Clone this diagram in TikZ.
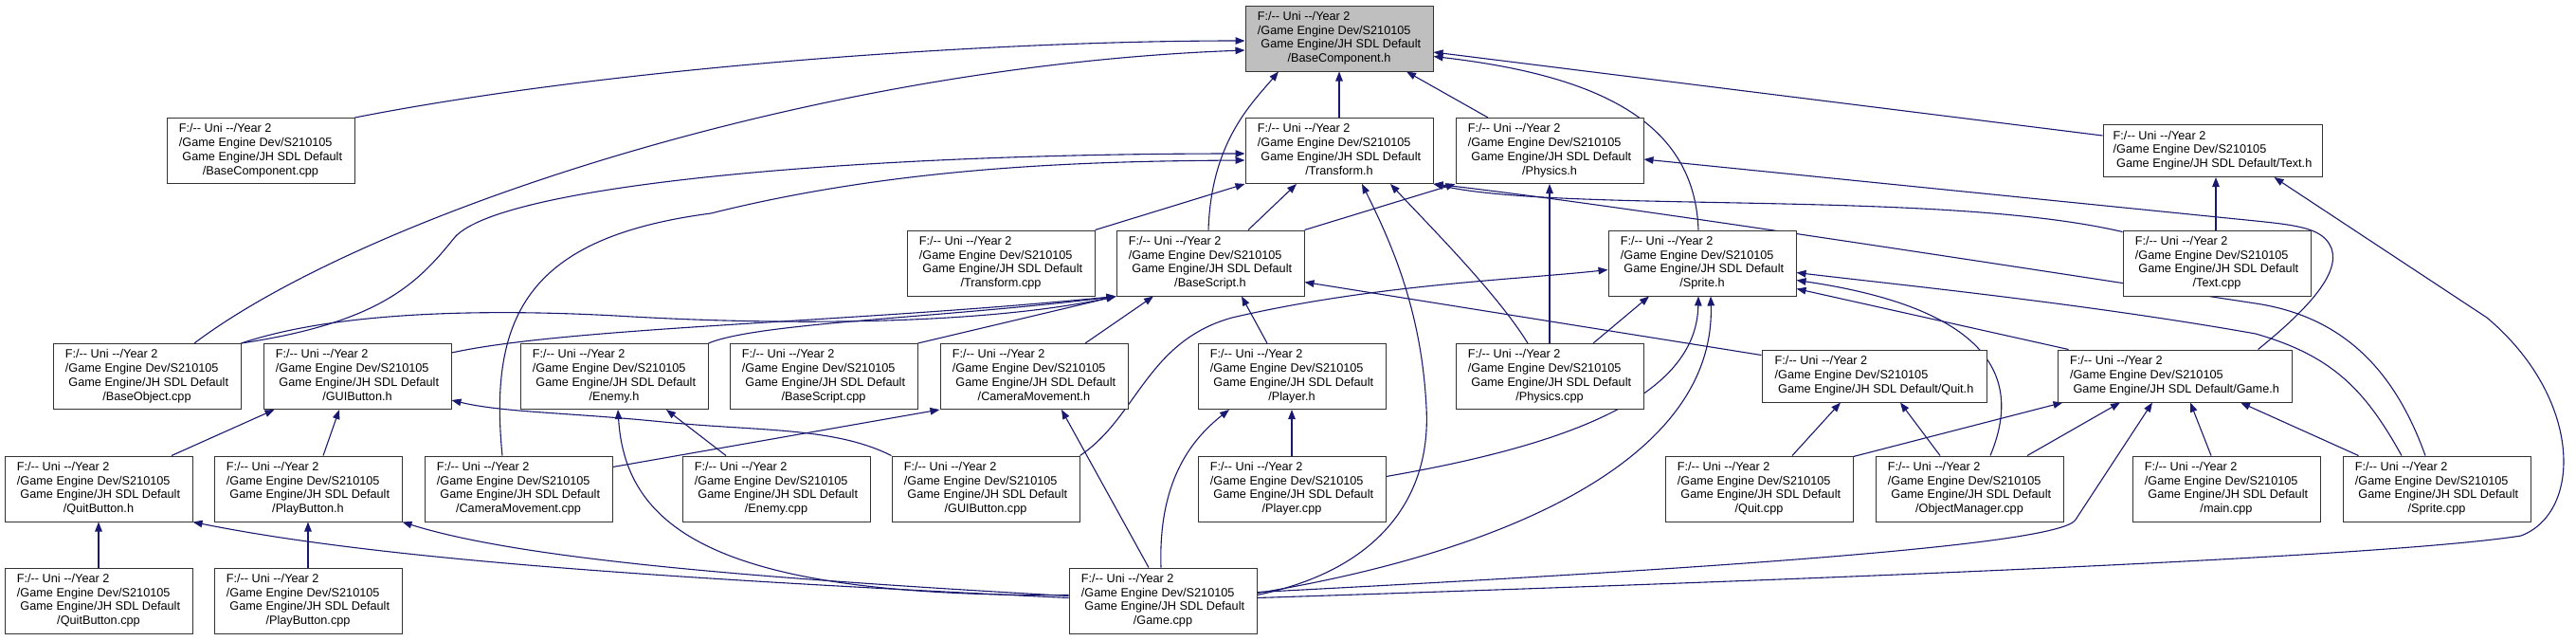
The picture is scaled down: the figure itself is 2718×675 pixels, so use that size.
\documentclass[tikz,border=0pt]{standalone}
\usepackage{fontspec}
\newfontfamily\lab{Liberation Sans}
\usetikzlibrary{arrows.meta,calc}
\definecolor{edgeblue}{HTML}{191970}
\definecolor{nodegray}{HTML}{BFBFBF}
\pgfdeclarelayer{bg}
\pgfsetlayers{bg,main}
\newcommand\dd{-\kern0pt-}
\newcommand\fourl[1]{\begin{tabular}{@{}l@{}}F:/\dd{} Uni \dd{}/Year 2\\/Game Engine Dev/S210105\\\ Game Engine/JH SDL Default\\\multicolumn{1}{@{}c@{}}{#1}\end{tabular}}
\newcommand\threel[1]{\begin{tabular}{@{}l@{}}F:/\dd{} Uni \dd{}/Year 2\\/Game Engine Dev/S210105\\\multicolumn{1}{@{}c@{}}{\ Game Engine/JH SDL Default#1}\end{tabular}}
\begin{document}
\begin{tikzpicture}[x=1pt,y=-1pt,
  nbox/.style={draw=black!80,line width=1pt,fill=white,inner sep=0pt,minimum width=198pt,minimum height=69pt,font=\lab\fontsize{12.7}{14.8}\selectfont},
  nboxg/.style={nbox,fill=nodegray},
  nbox3/.style={nbox,minimum height=55pt},
  inc/.style={draw=edgeblue,line width=1.1pt,-{Triangle[length=10pt,width=7.5pt]}}]
\useasboundingbox (0,0) rectangle (2718,675);
% nodes
\node[nboxg] (bch) at (1413,40.5) {\fourl{/BaseComponent.h}};
\node[nbox] (bcc) at (275,159) {\fourl{/BaseComponent.cpp}};
\node[nbox] (trh) at (1413,159) {\fourl{/Transform.h}};
\node[nbox] (phh) at (1635,159) {\fourl{/Physics.h}};
\node[nbox3,minimum width=231pt] (txh) at (2334.5,159) {\threel{/Text.h}};
\node[nbox] (trc) at (1056,277.5) {\fourl{/Transform.cpp}};
\node[nbox] (bsh) at (1277,277.5) {\fourl{/BaseScript.h}};
\node[nbox] (sph) at (1796,277.5) {\fourl{/Sprite.h}};
\node[nbox] (txc) at (2339,277.5) {\fourl{/Text.cpp}};
\node[nbox] (boc) at (155,397) {\fourl{/BaseObject.cpp}};
\node[nbox] (guh) at (377,397) {\fourl{/GUIButton.h}};
\node[nbox] (enh) at (648,397) {\fourl{/Enemy.h}};
\node[nbox] (bsc) at (869,397) {\fourl{/BaseScript.cpp}};
\node[nbox] (cmh) at (1091,397) {\fourl{/CameraMovement.h}};
\node[nbox] (plh) at (1363,397) {\fourl{/Player.h}};
\node[nbox] (phc) at (1635,397) {\fourl{/Physics.cpp}};
\node[nbox3,minimum width=237pt] (quh) at (1977.5,396.5) {\threel{/Quit.h}};
\node[nbox3,minimum width=247pt] (gah) at (2294.5,396.5) {\threel{/Game.h}};
\node[nbox] (qbh) at (104,515.5) {\fourl{/QuitButton.h}};
\node[nbox] (pbh) at (325,515.5) {\fourl{/PlayButton.h}};
\node[nbox] (cmc) at (547,515.5) {\fourl{/CameraMovement.cpp}};
\node[nbox] (enc) at (819,515.5) {\fourl{/Enemy.cpp}};
\node[nbox] (guc) at (1040,515.5) {\fourl{/GUIButton.cpp}};
\node[nbox] (plc) at (1363,515.5) {\fourl{/Player.cpp}};
\node[nbox] (quc) at (1856,515.5) {\fourl{/Quit.cpp}};
\node[nbox] (omc) at (2078,515.5) {\fourl{/ObjectManager.cpp}};
\node[nbox] (mac) at (2349,515.5) {\fourl{/main.cpp}};
\node[nbox] (spc) at (2571,515.5) {\fourl{/Sprite.cpp}};
\node[nbox] (qbc) at (104,633.5) {\fourl{/QuitButton.cpp}};
\node[nbox] (pbc) at (325,633.5) {\fourl{/PlayButton.cpp}};
\node[nbox] (gac) at (1227,633.5) {\fourl{/Game.cpp}};
% edges
\begin{pgfonlayer}{bg}
\fill[white] (0,0) rectangle (2718,675);
% to BaseComponent.h
\draw[inc] (bcc.north east) .. controls (650,70) and (1050,43) .. ($(bch.west)+(0,2.5)$);
\draw[inc] ($(boc.north)+(50,0)$) .. controls (380,230) and (850,70) .. ($(bch.west)+(0,12.5)$);
\draw[inc] (trh.north) -- (bch.south);
\draw[inc] ($(phh.north)+(-65,0)$) -- ($(bch.south)+(71,0)$);
\draw[inc] ($(txh.west)+(0,-16)$) -- ($(bch.east)+(0,14.5)$);
\draw[inc] ($(bsh.north)+(-2,0)$) .. controls (1278,150) and (1320,110) .. ($(bch.south)+(-64,0)$);
\draw[inc] ($(sph.north)+(-4,0)$) .. controls (1788,130) and (1690,80) .. ($(bch.east)+(0,19)$);
% to Transform.h
\draw[inc] (boc.north east) .. controls (400,340) and (440,300) .. (480,250) .. controls (530,195) and (900,162) .. ($(trh.west)+(0,3)$);
\draw[inc] ($(cmc.north)+(-17,0)$) .. controls (515,330) and (560,250) .. (750,225) .. controls (950,175) and (1150,170) .. ($(trh.west)+(0,10)$);
\draw[inc] (trc.north east) -- (trh.south west);
\draw[inc] ($(bsh.north)+(40,0)$) -- ($(trh.south)+(-45,0)$);
\draw[inc] ($(gac.east)+(0,-6)$) .. controls (1460,600) and (1510,520) .. (1505,430) .. controls (1500,330) and (1470,260) .. ($(trh.south)+(24,0)$);
\draw[inc] ($(phc.north)+(-23,0)$) .. controls (1580,310) and (1510,240) .. ($(trh.south)+(54,0)$);
\draw[inc] ($(txc.north west)+(0,2)$) .. controls (2050,200) and (1650,225) .. (trh.south east);
\draw[inc] ($(spc.north)+(-12,0)$) .. controls (2530,400) and (2480,335) .. (2380,320) .. controls (2150,285) and (1700,215) .. (trh.south east);
% to Physics.h
\draw[inc] (bsh.north east) -- (phh.south west);
\draw[inc] (phc.north) -- (phh.south);
\draw[inc] ($(gah.north east)+(-36,0)$) .. controls (2430,330) and (2470,290) .. (2460,262) .. controls (2452,242) and (2430,238) .. (2380,233) -- ($(phh.east)+(0,9)$);
% to Text.h
\draw[inc] ($(txc.north)+(-1,0)$) -- ($(txh.south)+(3.5,0)$);
\draw[inc] ($(gac.east)+(0,-3)$) .. controls (1800,615) and (2500,590) .. (2660,565) .. controls (2725,540) and (2725,420) .. (2624,335) -- ($(txh.south)+(65,0)$);
% to BaseScript.h
\draw[inc] (boc.north east) .. controls (350,330) and (500,325) .. (650,333) .. controls (850,345) and (1050,340) .. (bsh.south west);
\draw[inc] ($(guh.north east)+(0,10)$) .. controls (600,345) and (900,340) .. (bsh.south west);
\draw[inc] (enh.north east) .. controls (800,340) and (1000,335) .. (bsh.south west);
\draw[inc] (bsc.north east) -- (bsh.south west);
\draw[inc] ($(cmh.north)+(54,0)$) -- ($(bsh.south)+(-60,0)$);
\draw[inc] ($(plh.north)+(-26,0)$) -- ($(bsh.south)+(33,0)$);
\draw[inc] ($(quh.north west)+(0,6)$) -- ($(bsh.east)+(0,20)$);
% to Sprite.h
\draw[inc] (guc.north east) .. controls (1200,440) and (1210,360) .. (1300,335) .. controls (1450,300) and (1600,295) .. ($(sph.west)+(0,7)$);
\draw[inc] ($(phc.north)+(46,0)$) -- ($(sph.south)+(-56,0)$);
\draw[inc] ($(plc.east)+(0,-13)$) .. controls (1650,470) and (1790,420) .. ($(sph.south)+(-4,0)$);
\draw[inc] ($(gac.east)+(0,-8)$) .. controls (1600,580) and (1810,480) .. ($(sph.south)+(9,0)$);
\draw[inc] ($(gah.north west)+(12,0)$) -- ($(sph.east)+(0,27)$);
\draw[inc] ($(omc.north)+(22,0)$) .. controls (2125,420) and (2130,330) .. ($(sph.east)+(0,18)$);
\draw[inc] ($(spc.north)+(-37,0)$) .. controls (2495,410) and (2460,375) .. (2380,352) .. controls (2200,320) and (2000,300) .. ($(sph.east)+(0,10)$);
% to Quit.h
\draw[inc] ($(quc.north)+(35,0)$) -- ($(quh.south)+(-35.5,0)$);
\draw[inc] ($(omc.north)+(-31,0)$) -- ($(quh.south)+(27.5,0)$);
% to Game.h
\draw[inc] ($(quc.north east)+(0,1)$) -- ($(gah.south west)+(6,0)$);
\draw[inc] ($(omc.north)+(61,0)$) -- ($(gah.south)+(-57.5,0)$);
\draw[inc] ($(gac.east)+(0,-9)$) .. controls (1800,600) and (2175,575) .. (2190,548) -- ($(gah.south)+(-23.5,0)$);
\draw[inc] ($(mac.north)+(-16,0)$) -- ($(gah.south)+(16.5,0)$);
\draw[inc] ($(spc.north west)+(17,0)$) -- ($(gah.south)+(69.5,0)$);
% to GUIButton.h
\draw[inc] ($(qbh.north)+(77,0)$) -- ($(guh.south west)+(12,0)$);
\draw[inc] ($(pbh.north)+(16,0)$) -- ($(guh.south)+(-19,0)$);
\draw[inc] (guc.north west) .. controls (880,450) and (800,455) .. (700,445) .. controls (600,435) and (530,435) .. ($(guh.east)+(0,25)$);
% to Enemy.h
\draw[inc] ($(enc.north)+(-53,0)$) -- ($(enh.south)+(55,0)$);
\draw[inc] ($(gac.west)+(0,-6)$) .. controls (760,630) and (660,560) .. ($(enh.south)+(4,0)$);
% to CameraMovement.h
\draw[inc] ($(cmc.east)+(0,-23)$) -- (cmh.south west);
\draw[inc] ($(gac.north)+(-15,0)$) -- ($(cmh.south)+(29,0)$);
% to Player.h
\draw[inc] (plc.north) -- (plh.south);
\draw[inc] ($(gac.north)+(-2,0)$) .. controls (1222,510) and (1255,465) .. ($(plh.south)+(-66,0)$);
% to QuitButton.h / PlayButton.h
\draw[inc] (qbc.north) -- (qbh.south);
\draw[inc] ($(gac.west)+(0,-3)$) .. controls (700,610) and (400,590) .. (qbh.south east);
\draw[inc] (pbc.north) -- (pbh.south);
\draw[inc] ($(gac.west)+(0,-5)$) .. controls (800,610) and (550,590) .. (pbh.south east);
\end{pgfonlayer}
\end{tikzpicture}
\end{document}
